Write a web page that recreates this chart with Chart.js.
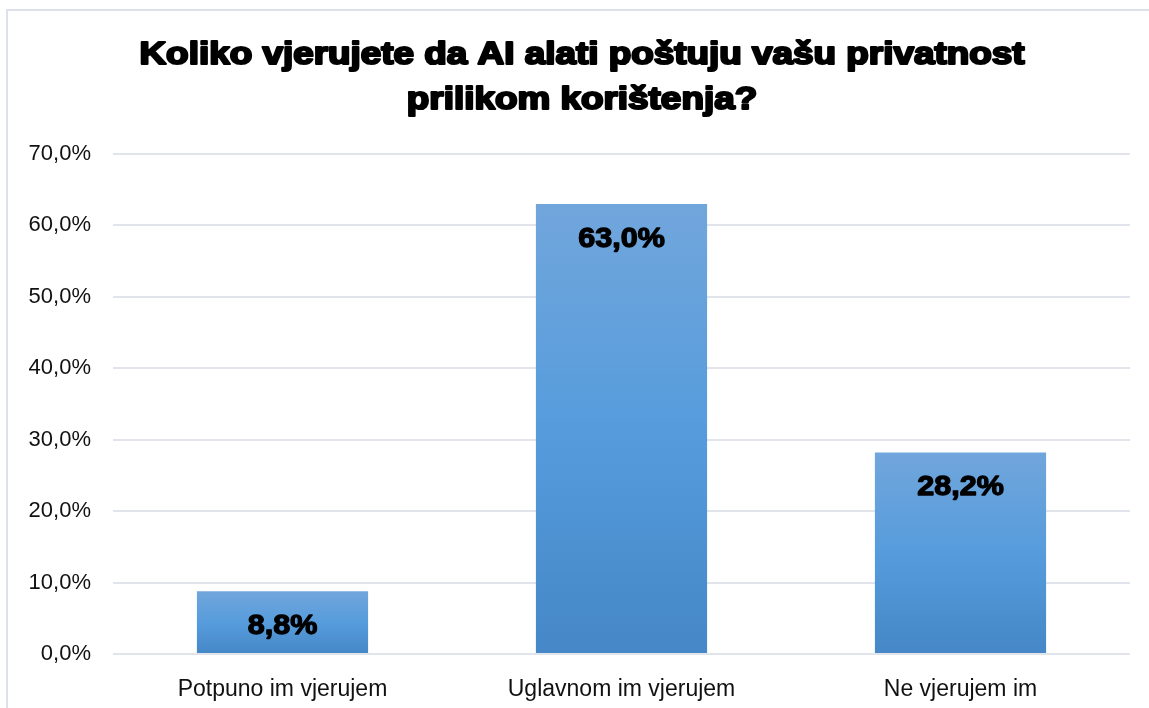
<!DOCTYPE html>
<html lang="hr">
<head>
  <meta charset="UTF-8">
  <title>Privatnost AI alata</title>
  <script src="https://cdn.jsdelivr.net/npm/chart.js"></script>
  <style>
    html, body { margin: 0; padding: 0; background: #fff; }
    #wrap { width: 1149px; height: 708px; position: relative; }
  </style>
</head>
<body>
  <div id="wrap"><canvas id="chart"></canvas></div>

  <script>
    // data
    const titleLines = ['Koliko vjerujete da AI alati poštuju vašu privatnost', 'prilikom korištenja?'];
    const categories = ['Potpuno im vjerujem', 'Uglavnom im vjerujem', 'Ne vjerujem im'];
    const shares = [8.8, 63.0, 28.2];
    const yMax = 70;
    const yStep = 10;

    const fmt = v => v.toFixed(1).replace('.', ',') + '%';
    const FONT = '"Liberation Sans", Arial, sans-serif';

    function barGradient(ctx) {
      const chart = ctx.chart;
      if (!chart.chartArea || ctx.type !== 'data') return '#559bdc';
      const y = chart.scales.y;
      const top = y.getPixelForValue(ctx.parsed.y);
      const bottom = y.getPixelForValue(0);
      const g = chart.ctx.createLinearGradient(0, top, 0, bottom);
      g.addColorStop(0, '#71a6dc');
      g.addColorStop(0.5, '#569cdc');
      g.addColorStop(1, '#4587c7');
      return g;
    }

    // bold text, stretched a bit sideways like the original
    function heavyText(c, txt, x, y, sx, stroke) {
      c.save();
      c.translate(x, y);
      c.scale(sx, 1);
      c.fillText(txt, 0, 0);
      c.lineWidth = stroke;
      c.strokeText(txt, 0, 0);
      c.restore();
    }

    // frame, title and value labels
    const decor = {
      id: 'decor',
      beforeDraw(chart) {
        const c = chart.ctx;
        c.save();
        c.strokeStyle = '#dde2ea';
        c.lineWidth = 2;
        c.beginPath();
        c.moveTo(1149, 10);
        c.lineTo(7, 10);
        c.lineTo(7, 708);
        c.stroke();

        c.fillStyle = '#000';
        c.strokeStyle = '#000';
        c.lineJoin = 'round';
        c.textAlign = 'center';
        c.textBaseline = 'middle';
        c.font = 'bold 32px ' + FONT;
        const sx = 885 / c.measureText(titleLines[0]).width;
        titleLines.forEach((t, i) => heavyText(c, t, 582, 55 + i * 45, sx, 2.2));
        c.restore();
      },
      afterDatasetsDraw(chart) {
        const c = chart.ctx;
        const meta = chart.getDatasetMeta(0);
        c.save();
        c.fillStyle = '#000';
        c.strokeStyle = '#000';
        c.lineJoin = 'round';
        c.textAlign = 'center';
        c.textBaseline = 'middle';
        c.font = 'bold 28px ' + FONT;
        meta.data.forEach((bar, i) => {
          heavyText(c, fmt(shares[i]), bar.x, bar.y + 35, 1.09, 1.3);
        });
        c.restore();
      }
    };

    new Chart(document.getElementById('chart'), {
      type: 'bar',
      data: {
        labels: categories,
        datasets: [{
          data: shares,
          backgroundColor: barGradient,
          borderWidth: 0,
          barPercentage: 0.505,
          categoryPercentage: 1
        }]
      },
      options: {
        responsive: true,
        maintainAspectRatio: false,
        animation: false,
        layout: { padding: { left: 8, right: 19, top: 154, bottom: 0 } },
        plugins: {
          legend: { display: false },
          tooltip: { enabled: false }
        },
        scales: {
          x: {
            grid: { display: false },
            border: { display: false },
            ticks: {
              color: '#111',
              padding: 14,
              font: { family: FONT, size: 23 }
            },
            afterFit: s => { s.height = 54; }
          },
          y: {
            min: 0,
            max: yMax,
            grid: { color: '#e1e4ea', lineWidth: 2, drawTicks: false },
            border: { display: false },
            ticks: {
              stepSize: yStep,
              color: '#111',
              padding: 22,
              callback: v => fmt(v),
              font: { family: FONT, size: 22 }
            },
            afterFit: s => { s.width = 105; }
          }
        }
      },
      plugins: [decor]
    });
  </script>
</body>
</html>
